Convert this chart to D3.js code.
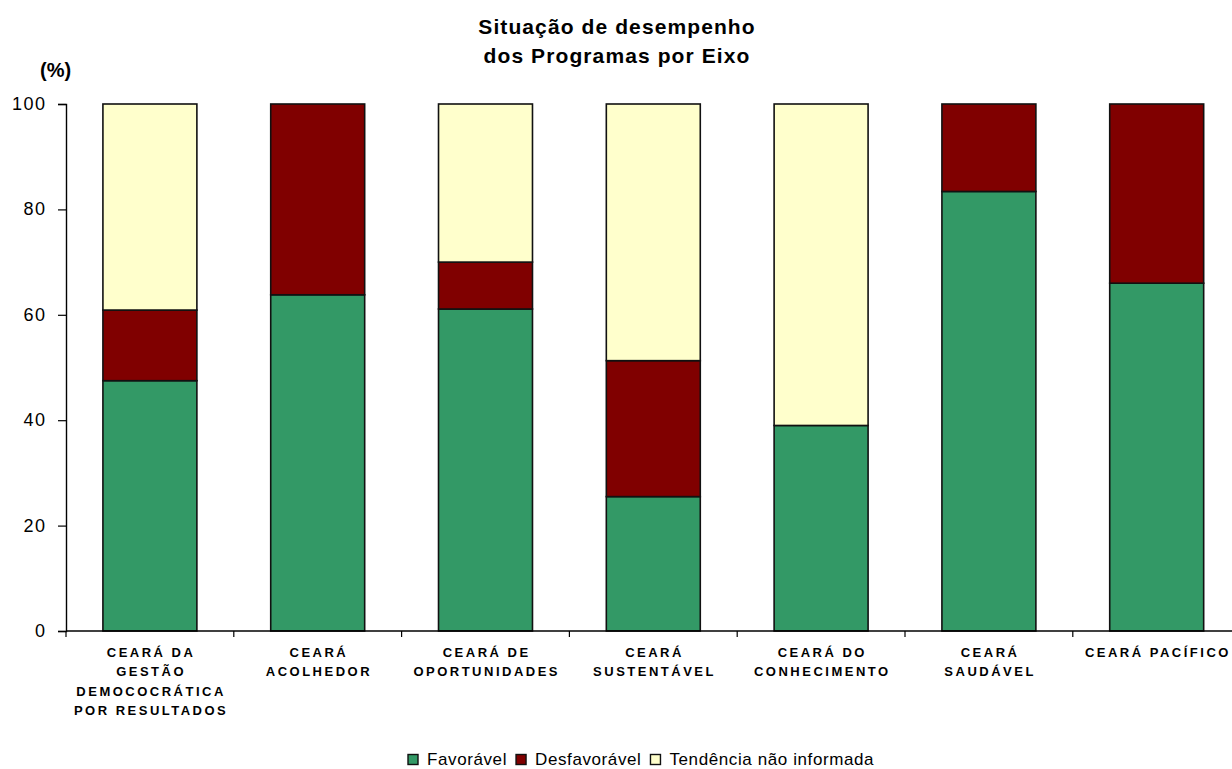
<!DOCTYPE html>
<html><head><meta charset="utf-8">
<script src="https://cdn.jsdelivr.net/npm/d3@7"></script>
<style>body{margin:0;background:#fff}svg{display:block}text{font-family:Arial,"Liberation Sans",sans-serif}</style>
</head><body>
<svg id="chart" width="1232" height="769"></svg>
<script>
const categories = [
  ["CEARÁ DA","GESTÃO","DEMOCOCRÁTICA","POR RESULTADOS"],
  ["CEARÁ","ACOLHEDOR"],
  ["CEARÁ DE","OPORTUNIDADES"],
  ["CEARÁ","SUSTENTÁVEL"],
  ["CEARÁ DO","CONHECIMENTO"],
  ["CEARÁ","SAUDÁVEL"],
  ["CEARÁ  PACÍFICO"]
];
const favoravel =    [47.5, 63.8, 61.1, 25.5, 39.0, 83.4, 66.0];
const desfavoravel = [13.4, 36.2,  8.9, 25.8,  0.0, 16.6, 34.0];
const tendencia =    [39.1,  0.0, 30.0, 48.7, 61.0,  0.0,  0.0];
const seriesNames = ["Favorável","Desfavorável","Tendência não informada"];
const colors = ["#339966","#800000","#FFFFCC"];
const yTicks = [0,20,40,60,80,100];

(function(){
const svg = d3.select("#chart");
const mLeft = 66, mTop = 104, mBottom = 631, band = 167.8;
const x = d3.scaleBand().domain(d3.range(categories.length)).range([mLeft, mLeft + band*categories.length]).paddingInner(0.44).paddingOuter(0.22);
const y = d3.scaleLinear().domain([0,100]).range([mBottom, mTop]);

// title
const title = svg.append("text").attr("text-anchor","middle")
  .style("font-size","21px").style("font-weight","bold").style("letter-spacing","1.1px");
title.append("tspan").attr("x",617).attr("y",34).text("Situação de desempenho");
title.append("tspan").attr("x",617).attr("y",63).text("dos Programas por Eixo");

svg.append("text").attr("x",40).attr("y",77).style("font-size","20px").style("font-weight","bold").text("(%)");

// data stacking
const rows = categories.map((c,i)=>({i, f:favoravel[i], d:desfavoravel[i], t:tendencia[i]}));
const stack = d3.stack().keys(["f","d","t"])(rows);
stack.forEach((layer,k)=>{
  svg.append("g").selectAll("rect").data(layer.filter(d=>d[1]-d[0]>0)).join("rect")
    .attr("x",d=>x(d.data.i)).attr("width",x.bandwidth())
    .attr("y",d=>y(d[1])).attr("height",d=>y(d[0])-y(d[1]))
    .attr("fill",colors[k]).attr("stroke","#111").attr("stroke-width",1.6);
});

// y axis
const yAxis = svg.append("g").attr("transform",`translate(${mLeft},0)`)
  .call(d3.axisLeft(y).tickValues(yTicks).tickSize(8).tickPadding(11.5));
yAxis.select(".domain").attr("stroke","#000").attr("stroke-width",1.4);
yAxis.selectAll(".tick line").attr("stroke","#000").attr("stroke-width",1.2);
yAxis.selectAll(".tick text").style("font-size","18px").style("letter-spacing","1.5px")
  .style("font-family","Arial,'Liberation Sans',sans-serif").attr("fill","#000").attr("dy","0.3em");

// x axis
const xg = svg.append("g");
xg.append("line").attr("x1",mLeft).attr("x2",mLeft+band*categories.length).attr("y1",mBottom).attr("y2",mBottom).attr("stroke","#000").attr("stroke-width",1.4);
xg.selectAll("line.tk").data(d3.range(categories.length+1)).join("line").attr("class","tk")
  .attr("x1",i=>mLeft+band*i).attr("x2",i=>mLeft+band*i).attr("y1",mBottom).attr("y2",mBottom+6).attr("stroke","#000").attr("stroke-width",1.2);
categories.forEach((lines,i)=>{
  const t = xg.append("text").attr("text-anchor","middle").style("font-size","13px").style("font-weight","bold").style("letter-spacing","2.5px");
  lines.forEach((ln,j)=>{
    t.append("tspan").attr("x",x(i)+x.bandwidth()/2+1.2).attr("y",657+j*19.3).text(ln);
  });
});

// legend
const lg = svg.append("g");
let cx = 0;
seriesNames.forEach((n,k)=>{
  lg.append("rect").attr("x",cx).attr("y",754.5).attr("width",10).attr("height",10).attr("fill",colors[k]).attr("stroke","#111").attr("stroke-width",1.4);
  const t = lg.append("text").attr("x",cx+19).attr("y",764.5).style("font-size","17px").style("letter-spacing","0.6px").text(n);
  cx += 19 + t.node().getComputedTextLength() + 9;
});
lg.attr("transform",`translate(${408},0)`);
})();
</script>
</body></html>
